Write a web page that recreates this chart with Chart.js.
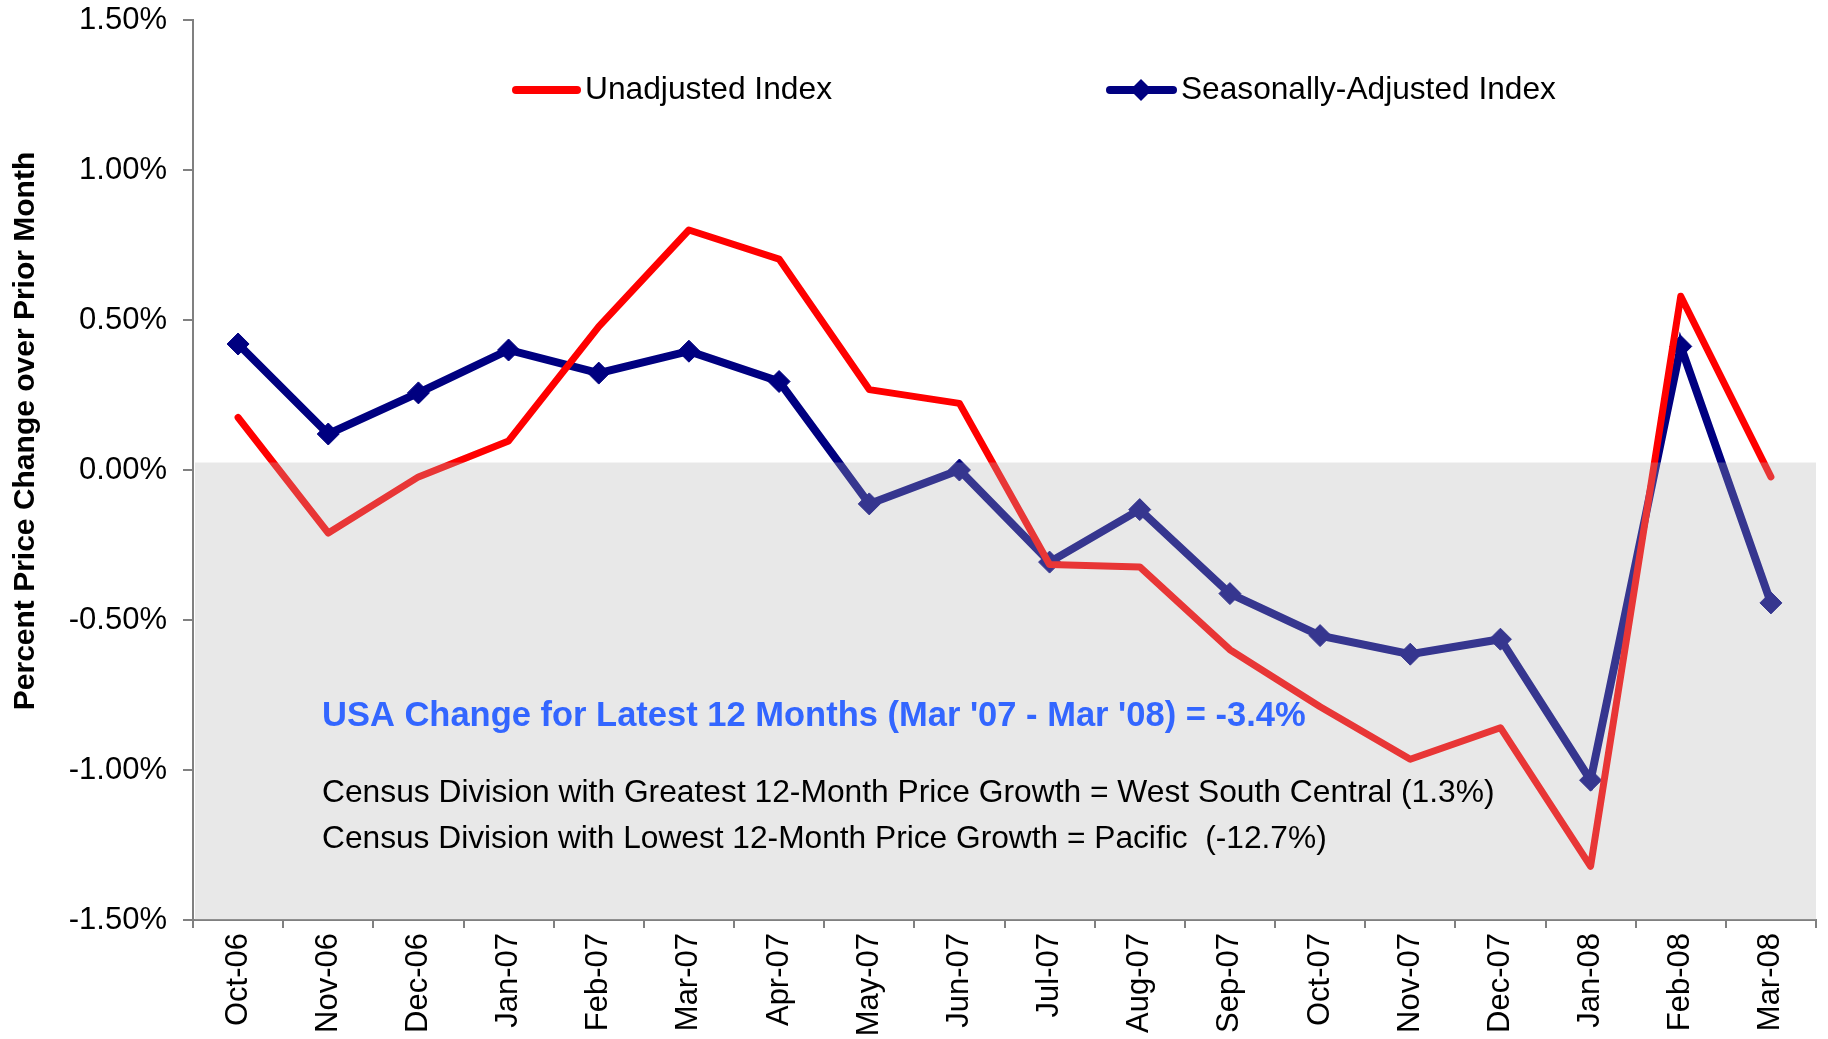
<!DOCTYPE html>
<html><head><meta charset="utf-8">
<script src="https://cdn.jsdelivr.net/npm/chart.js@4/dist/chart.umd.min.js"></script>
<style>html,body{margin:0;padding:0;background:#fff;}canvas{display:block}</style>
</head><body>
<div style="width:1828px;height:1039px;position:relative"><canvas id="c" width="1828" height="1039"></canvas></div>
<script>
const categories = ['Oct-06','Nov-06','Dec-06','Jan-07','Feb-07','Mar-07','Apr-07','May-07','Jun-07','Jul-07','Aug-07','Sep-07','Oct-07','Nov-07','Dec-07','Jan-08','Feb-08','Mar-08'];
const unadjusted = [0.175,-0.21,-0.023,0.097,0.478,0.80,0.703,0.268,0.222,-0.315,-0.323,-0.599,-0.789,-0.964,-0.859,-1.321,0.579,-0.023];
const seasonallyAdjusted = [0.42,0.12,0.257,0.40,0.323,0.396,0.295,-0.113,0.0,-0.307,-0.132,-0.412,-0.552,-0.614,-0.564,-1.034,0.412,-0.443];
const seriesNames = ['Unadjusted Index','Seasonally-Adjusted Index'];
const yTitle = 'Percent Price Change over Prior Month';
const headline = "USA Change for Latest 12 Months (Mar '07 - Mar '08) = -3.4%";
const noteLines = ['Census Division with Greatest 12-Month Price Growth = West South Central (1.3%)','Census Division with Lowest 12-Month Price Growth = Pacific  (-12.7%)'];

const FAM = '"Liberation Sans", Arial, sans-serif';
const RED = '#ff0000', NAVY = '#000080';

function fitText(ctx, text, x, y, width, weight, color) {
  ctx.save();
  ctx.font = weight + ' 100px ' + FAM;
  const w = ctx.measureText(text).width;
  const size = 100 * width / w;
  ctx.font = weight + ' ' + size.toFixed(2) + 'px ' + FAM;
  ctx.fillStyle = color;
  ctx.textBaseline = 'middle';
  ctx.textAlign = 'left';
  ctx.fillText(text, x, y);
  ctx.restore();
}

const decor = {
  id: 'decor',
  afterDatasetsDraw(chart) {
    const {ctx, chartArea, scales} = chart;
    const top = scales.y.getPixelForValue(0.025);
    ctx.save();
    ctx.fillStyle = 'rgba(180,180,180,0.3)';
    ctx.fillRect(chartArea.left + 2, top, chartArea.right - chartArea.left - 2, chartArea.bottom - top);
    ctx.restore();
  },
  afterDraw(chart) {
    const {ctx} = chart;
    ctx.save();
    ctx.translate(26, 431);
    ctx.rotate(-Math.PI / 2);
    ctx.font = 'bold 30px ' + FAM;
    ctx.fillStyle = '#000';
    ctx.textAlign = 'center';
    ctx.textBaseline = 'middle';
    ctx.fillText(yTitle, 0, 0);
    ctx.restore();
    const ly = 90;
    ctx.save();
    ctx.lineCap = 'round';
    ctx.lineWidth = 8;
    ctx.strokeStyle = RED;
    ctx.beginPath(); ctx.moveTo(516, ly); ctx.lineTo(577, ly); ctx.stroke();
    ctx.strokeStyle = NAVY;
    ctx.beginPath(); ctx.moveTo(1110, ly); ctx.lineTo(1173, ly); ctx.stroke();
    ctx.fillStyle = NAVY;
    ctx.beginPath();
    ctx.moveTo(1141, ly - 11); ctx.lineTo(1152, ly); ctx.lineTo(1141, ly + 11); ctx.lineTo(1130, ly); ctx.closePath(); ctx.fill();
    ctx.restore();
    fitText(ctx, seriesNames[0], 585, ly, 247, 'normal', '#000');
    fitText(ctx, seriesNames[1], 1181, ly, 375, 'normal', '#000');
    fitText(ctx, headline, 322, 716, 984, 'bold', '#3366ff');
    fitText(ctx, noteLines[0], 322, 793, 1173, 'normal', '#000');
    fitText(ctx, noteLines[1], 322, 839, 1005, 'normal', '#000');
  }
};

new Chart(document.getElementById('c'), {
  type: 'line',
  data: {
    labels: categories,
    datasets: [
      {label: seriesNames[0], data: unadjusted, borderColor: RED, backgroundColor: RED, borderWidth: 7,
       pointRadius: 0, borderCapStyle: 'round', borderJoinStyle: 'round', tension: 0, order: 1},
      {label: seriesNames[1], data: seasonallyAdjusted, borderColor: NAVY, backgroundColor: NAVY, borderWidth: 8,
       pointStyle: 'rectRot', pointRadius: 11, pointBackgroundColor: NAVY, pointBorderColor: NAVY, pointBorderWidth: 1,
       borderJoinStyle: 'miter', tension: 0, order: 2}
    ]
  },
  options: {
    responsive: false, animation: false, devicePixelRatio: 1,
    layout: {padding: {top: 20, right: 7, left: 0, bottom: 0}},
    plugins: {legend: {display: false}, tooltip: {enabled: false}},
    scales: {
      x: {
        offset: true,
        grid: {offset: true, drawOnChartArea: false, tickLength: 8, color: '#808080', lineWidth: 2},
        border: {color: '#808080', width: 2},
        ticks: {maxRotation: 90, minRotation: 90, autoSkip: false, padding: 5, color: '#000', font: {size: 31, family: FAM}},
        afterFit(s) { s.height = 119; s.paddingLeft = 0; s.paddingRight = 0; }
      },
      y: {
        min: -1.5, max: 1.5,
        grid: {drawOnChartArea: false, tickLength: 10, color: '#808080', lineWidth: 2},
        border: {color: '#808080', width: 2},
        ticks: {stepSize: 0.5, padding: 16, color: '#000', font: {size: 31, family: FAM},
                callback: v => v.toFixed(2) + '%'},
        afterFit(s) { s.width = 193; s.paddingTop = 0; s.paddingBottom = 0; }
      }
    }
  },
  plugins: [decor]
});
</script>
</body></html>
